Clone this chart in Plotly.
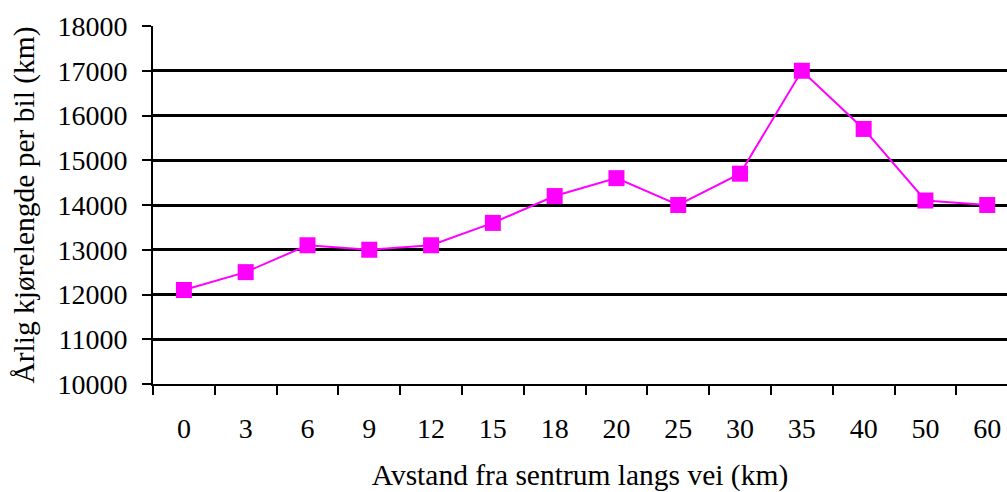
import plotly.graph_objects as go

categories = ["0", "3", "6", "9", "12", "15", "18", "20", "25", "30", "35", "40", "50", "60"]
values = [12100, 12500, 13100, 13000, 13100, 13600, 14200, 14600, 14000, 14700, 17000, 15700, 14100, 14000]
y_ticks = list(range(10000, 18001, 1000))

TICKFONT = dict(family="Liberation Serif", size=28, color="black")
TITLEFONT = dict(family="Liberation Serif", size=29.5, color="black")

fig = go.Figure(go.Scatter(
    x=categories, y=values, mode="lines+markers",
    line=dict(color="#FF00FF", width=2),
    marker=dict(symbol="square", size=16, color="#FF00FF"),
    cliponaxis=False,
))

fig.update_layout(
    width=1007, height=492,
    margin=dict(l=153, r=0, t=26, b=108),
    paper_bgcolor="white", plot_bgcolor="white",
    font=TICKFONT, showlegend=False,
)
fig.update_xaxes(
    type="category", range=[-0.5, 13.32],
    tickson="boundaries", ticks="outside", ticklen=9, tickwidth=2, tickcolor="black",
    showline=True, linecolor="black", linewidth=2, showgrid=False,
    ticklabelstandoff=18, tickfont=TICKFONT,
    title=dict(text="Avstand fra sentrum langs vei (km)", standoff=29, font=TITLEFONT),
)
fig.update_yaxes(
    range=[10000, 18000], tickvals=y_ticks, tickformat="d",
    ticks="outside", ticklen=9, tickwidth=2, tickcolor="black",
    showline=True, linecolor="black", linewidth=2,
    showgrid=True, gridcolor="black", gridwidth=2.5, zeroline=False,
    ticklabelstandoff=9, tickfont=TICKFONT,
    title=dict(text="Årlig kjørelengde per bil (km)", standoff=14, font=TITLEFONT),
)
fig.write_html("out.html")
